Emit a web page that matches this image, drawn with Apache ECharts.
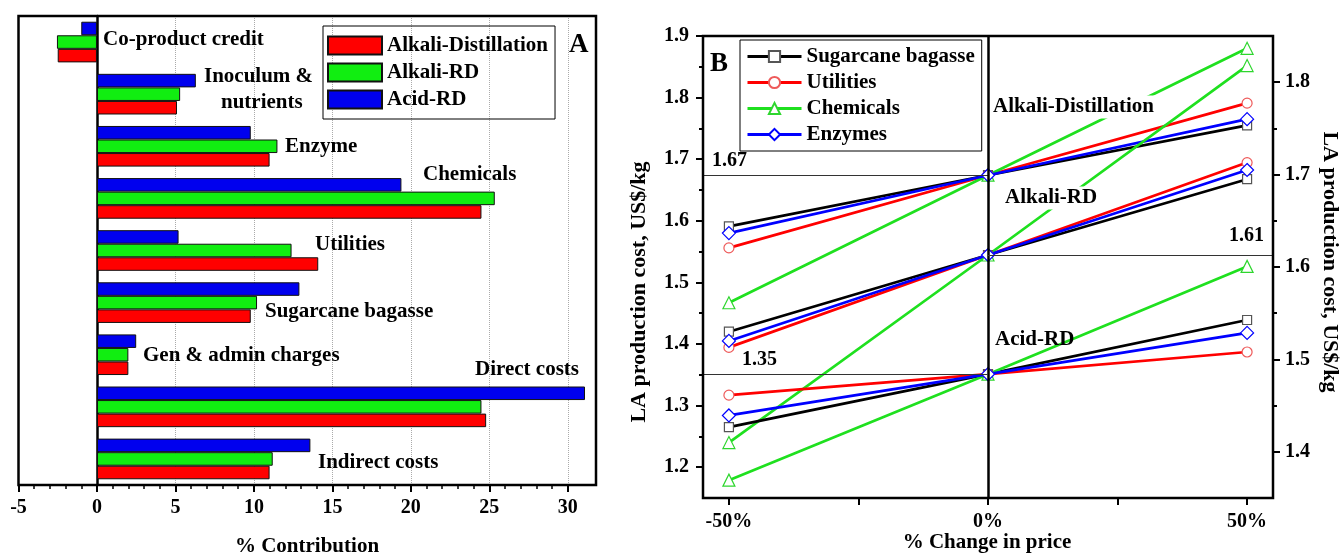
<!DOCTYPE html>
<html><head><meta charset="utf-8">
<script src="https://cdn.jsdelivr.net/npm/echarts@6/dist/echarts.min.js"></script>
<style>html,body{margin:0;padding:0;background:#fff;}#c{width:1344px;height:556px;}</style>
</head><body><div id="c"></div>
<script>
// ---------- Panel A data ----------
const aCategories = ['Co-product credit','Inoculum & nutrients','Enzyme','Chemicals','Utilities','Sugarcane bagasse','Gen & admin charges','Direct costs','Indirect costs'];
const alkaliDistillation = [-2.5, 5.1, 11.0, 24.5, 14.1, 9.8, 2.0, 24.8, 11.0];
const alkaliRD = [-2.55, 5.3, 11.5, 25.35, 12.4, 10.2, 2.0, 24.5, 11.2];
const acidRD = [-1.0, 6.3, 9.8, 19.4, 5.2, 12.9, 2.5, 31.1, 13.6];
const aLegend = ['Alkali-Distillation','Alkali-RD','Acid-RD'];

// ---------- Panel B data ----------
const priceChange = [-50, 0, 50];
const bParams = ['Sugarcane bagasse','Utilities','Chemicals','Enzymes'];
const bDistBagasse = [1.591, 1.674, 1.755];
const bDistUtilities = [1.556, 1.674, 1.791];
const bDistChemicals = [1.467, 1.674, 1.880];
const bDistEnzymes = [1.580, 1.674, 1.765];
const bRDBagasse = [1.530, 1.613, 1.695];
const bRDUtilities = [1.513, 1.613, 1.713];
const bRDChemicals = [1.410, 1.613, 1.818];
const bRDEnzymes = [1.520, 1.613, 1.705];
const bAcidBagasse = [1.265, 1.351, 1.439];
const bAcidUtilities = [1.317, 1.351, 1.387];
const bAcidChemicals = [1.179, 1.351, 1.526];
const bAcidEnzymes = [1.284, 1.351, 1.418];
const baseDist = 1.674, baseRD = 1.613, baseAcid = 1.351;

const FONT = 'Liberation Serif';
const chart = echarts.init(document.getElementById('c'));
const lab = (s) => ({fontFamily: FONT, fontWeight: 'bold', fontSize: s, color: '#000'});

const styleB = {
  'Sugarcane bagasse': {symbol: 'rect', size: 9, line: '#000000', border: '#555555'},
  'Utilities': {symbol: 'circle', size: 10, line: '#ff0000', border: '#ee5a5a'},
  'Chemicals': {symbol: 'triangle', size: 12, line: '#1fe01f', border: '#2ed62e'},
  'Enzymes': {symbol: 'diamond', size: 13, line: '#0000ff', border: '#0000ff'}
};
function pts(vals) { return priceChange.map((x, i) => [x, vals[i]]); }
function lineSeries(name, vals, yIdx, markLine) {
  const st = styleB[name];
  const s = {
    type: 'line', name: name, xAxisIndex: 2, yAxisIndex: yIdx, data: pts(vals),
    symbol: st.symbol, symbolSize: st.size, showAllSymbol: true,
    lineStyle: {color: st.line, width: 2.7},
    itemStyle: {color: '#fff', borderColor: st.border, borderWidth: 1.2},
    emphasis: {disabled: true}, z: 3
  };
  if (markLine) s.markLine = markLine;
  return s;
}
const mlStyle = {color: '#333', width: 1, type: 'solid'};
const series = [
  {type: 'bar', name: 'Acid-RD', data: acidRD, xAxisIndex: 0, yAxisIndex: 0, barGap: '0%', barCategoryGap: '22%',
   itemStyle: {color: '#0000ee', borderColor: '#111', borderWidth: 1}},
  {type: 'bar', name: 'Alkali-RD', data: alkaliRD, xAxisIndex: 0, yAxisIndex: 0, barGap: '0%', barCategoryGap: '22%',
   itemStyle: {color: '#11ee11', borderColor: '#111', borderWidth: 1}},
  {type: 'bar', name: 'Alkali-Distillation', data: alkaliDistillation, xAxisIndex: 0, yAxisIndex: 0, barGap: '0%', barCategoryGap: '22%',
   itemStyle: {color: '#ff0000', borderColor: '#111', borderWidth: 1}},
  lineSeries('Sugarcane bagasse', bDistBagasse, 2, {silent: true, symbol: 'none', label: {show: false}, lineStyle: mlStyle,
    data: [[{coord: [-55, baseDist]}, {coord: [0, baseDist]}], {xAxis: 0, lineStyle: {color: '#000', width: 2.5, type: 'solid'}}]}),
  lineSeries('Utilities', bDistUtilities, 2),
  lineSeries('Chemicals', bDistChemicals, 2),
  lineSeries('Enzymes', bDistEnzymes, 2),
  lineSeries('Sugarcane bagasse', bRDBagasse, 3, {silent: true, symbol: 'none', label: {show: false}, lineStyle: mlStyle,
    data: [[{coord: [0, baseRD]}, {coord: [55, baseRD]}]]}),
  lineSeries('Utilities', bRDUtilities, 3),
  lineSeries('Chemicals', bRDChemicals, 3),
  lineSeries('Enzymes', bRDEnzymes, 3),
  lineSeries('Sugarcane bagasse', bAcidBagasse, 2, {silent: true, symbol: 'none', label: {show: false}, lineStyle: mlStyle,
    data: [[{coord: [-55, baseAcid]}, {coord: [0, baseAcid]}]]}),
  lineSeries('Utilities', bAcidUtilities, 2),
  lineSeries('Chemicals', bAcidChemicals, 2),
  lineSeries('Enzymes', bAcidEnzymes, 2)
];

const hidden = {show: false, min: 0, max: 1, type: 'value'};

function txt(t, x, y, size, opts) {
  return Object.assign({type: 'text', z: 100, x: x, y: y,
    style: Object.assign({text: t, font: 'bold ' + size + 'px "' + FONT + '"', fill: '#000', textVerticalAlign: 'middle', textAlign: 'left'}, (opts && opts.style) || {})},
    opts && opts.rotation !== undefined ? {rotation: opts.rotation} : {});
}

chart.setOption({
  animation: false,
  backgroundColor: '#fff',
  grid: [
    {left: 18.5, top: 16, right: 748, bottom: 71},
    {left: 18.5, top: 16, right: 776.2, bottom: 71},
    {left: 703, top: 36, right: 71, bottom: 58},
    {left: 728.9, top: 36, right: 96.9, bottom: 58},
    {left: 703, top: 36, right: 71, bottom: 88.8},
    {left: 703, top: 82.2, right: 71, bottom: 104.2}
  ],
  legend: [
    {data: aLegend, left: 323, top: 26, orient: 'vertical', itemWidth: 54, itemHeight: 18, itemGap: 6,
     padding: [9, 7, 9, 4], borderColor: '#000', borderWidth: 1, icon: 'rect', textStyle: lab(21), selectedMode: false},
    {data: bParams, left: 740, top: 40, orient: 'vertical', itemWidth: 54, itemHeight: 14, itemGap: 5,
     padding: [6, 7, 6, 6], borderColor: '#000', borderWidth: 1, textStyle: lab(21), selectedMode: false,
     lineStyle: {width: 3}}
  ],
  xAxis: [
    {gridIndex: 0, type: 'value', min: -5, max: 31.8, axisLine: {show: false}, axisTick: {show: false}, axisLabel: {show: false}, splitLine: {show: false}},
    {gridIndex: 1, type: 'value', min: -5, max: 30, interval: 5,
     axisLine: {show: false}, axisTick: {show: true, length: 7, lineStyle: {color: '#000', width: 2}},
     minorTick: {show: true, splitNumber: 5, length: 4, lineStyle: {color: '#000', width: 1.5}},
     axisLabel: Object.assign({margin: 13}, lab(20)),
     splitLine: {show: true, lineStyle: {color: '#aaa', type: 'dotted', width: 1}}},
    {gridIndex: 2, type: 'value', min: -55, max: 55, axisLine: {show: false, onZero: false}, axisTick: {show: false}, axisLabel: {show: false}, splitLine: {show: false}},
    {gridIndex: 3, type: 'value', min: -50, max: 50, interval: 25,
     axisLine: {show: false, onZero: false}, axisTick: {show: true, length: 7, lineStyle: {color: '#000', width: 2}},
     axisLabel: Object.assign({margin: 14, formatter: v => (v % 50 === 0 ? v + '%' : '')}, lab(20)),
     splitLine: {show: false}},
    Object.assign({gridIndex: 4}, hidden),
    Object.assign({gridIndex: 5}, hidden)
  ],
  yAxis: [
    {gridIndex: 0, type: 'category', data: aCategories, inverse: true,
     axisLine: {show: true, onZero: true, lineStyle: {color: '#000', width: 2.5}}, axisTick: {show: false}, axisLabel: {show: false}},
    Object.assign({gridIndex: 1}, hidden),
    {gridIndex: 2, type: 'value', min: 1.15, max: 1.9, axisLine: {show: false, onZero: false}, axisTick: {show: false}, axisLabel: {show: false}, splitLine: {show: false}},
    {gridIndex: 2, type: 'value', position: 'right', min: 1.35, max: 1.85, axisLine: {show: false, onZero: false}, axisTick: {show: false}, axisLabel: {show: false}, splitLine: {show: false}},
    Object.assign({gridIndex: 3}, hidden),
    {gridIndex: 4, type: 'value', min: 1.2, max: 1.9, interval: 0.1,
     axisLine: {show: false, onZero: false}, axisTick: {show: true, length: 7, lineStyle: {color: '#000', width: 2}},
     minorTick: {show: true, splitNumber: 2, length: 4, lineStyle: {color: '#000', width: 2}},
     axisLabel: Object.assign({margin: 14, formatter: v => v.toFixed(1)}, lab(20)), splitLine: {show: false}},
    {gridIndex: 5, type: 'value', position: 'right', min: 1.4, max: 1.8, interval: 0.1,
     axisLine: {show: false, onZero: false}, axisTick: {show: true, length: 7, lineStyle: {color: '#000', width: 2}},
     minorTick: {show: true, splitNumber: 2, length: 4, lineStyle: {color: '#000', width: 2}},
     axisLabel: Object.assign({margin: 12, formatter: v => v.toFixed(1)}, lab(20)), splitLine: {show: false}}
  ],
  series: series,
  graphic: [
    {type: 'rect', z: 50, shape: {x: 18.5, y: 16, width: 577.5, height: 469}, style: {fill: 'none', stroke: '#000', lineWidth: 2.5}},
    {type: 'rect', z: 50, shape: {x: 703, y: 36, width: 570, height: 462}, style: {fill: 'none', stroke: '#000', lineWidth: 2.5}},
    // Panel A annotations
    txt('Co-product credit', 103, 40, 21),
    txt('Inoculum &', 204, 77, 21),
    txt('nutrients', 221, 103, 21),
    txt('Enzyme', 285, 147, 21),
    txt('Chemicals', 423, 175, 21),
    txt('Utilities', 315, 245, 21),
    txt('Sugarcane bagasse', 265, 312, 21),
    txt('Gen & admin charges', 143, 356, 21),
    txt('Direct costs', 475, 370, 21),
    txt('Indirect costs', 318, 463, 21),
    txt('A', 569, 45, 27),
    txt('% Contribution', 307, 547, 21, {style: {textAlign: 'center'}}),
    // Panel B annotations
    txt('B', 710, 64, 27),
    txt('1.67', 712, 161, 20),
    txt('1.61', 1229, 236, 20),
    txt('1.35', 742, 360, 20),
    txt('Alkali-Distillation', 991, 107, 21, {style: {backgroundColor: '#fff', padding: [1, 2]}}),
    txt('Alkali-RD', 1003, 198, 21, {style: {backgroundColor: '#fff', padding: [1, 2]}}),
    txt('Acid-RD', 995, 340, 21),
    txt('% Change in price', 987, 543, 21, {style: {textAlign: 'center'}}),
    txt('LA production cost, US$/kg', 639, 292, 22, {rotation: Math.PI / 2, style: {textAlign: 'center'}}),
    txt('LA production cost, US$/kg', 1330, 262, 22, {rotation: -Math.PI / 2, style: {textAlign: 'center'}})
  ]
});
</script></body></html>
